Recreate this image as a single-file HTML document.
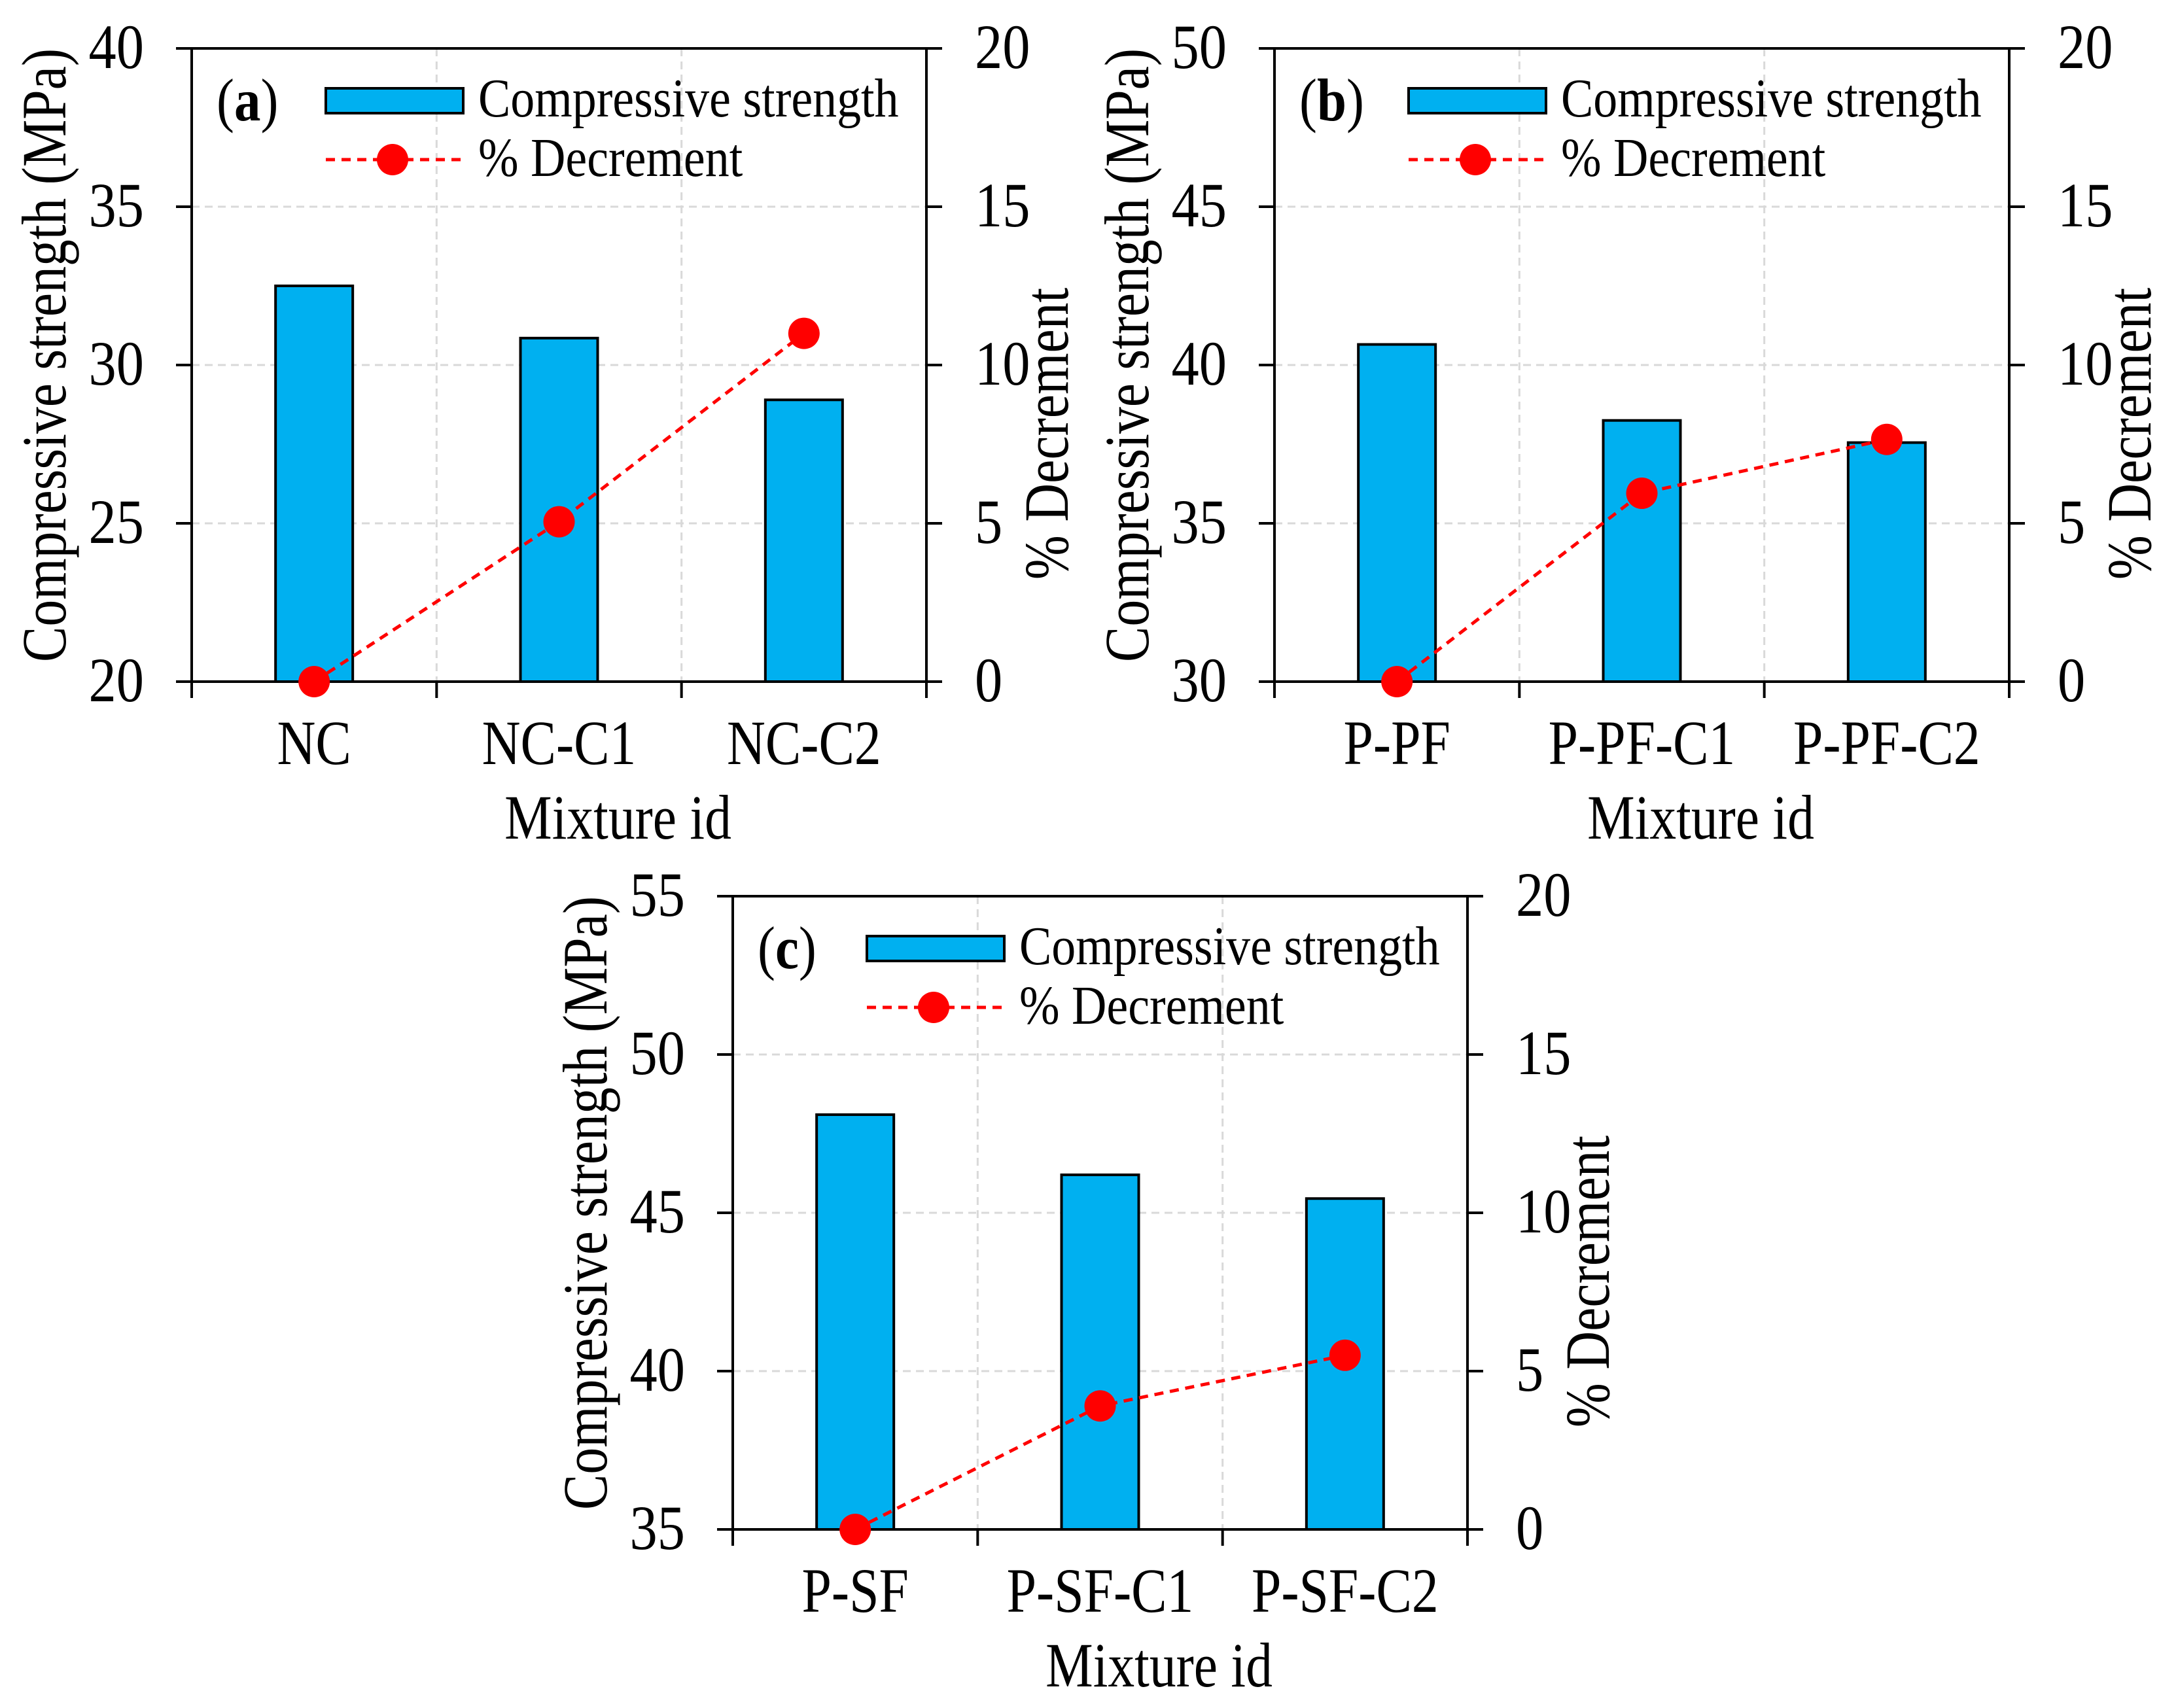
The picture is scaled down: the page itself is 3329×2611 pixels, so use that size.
<!DOCTYPE html>
<html><head><meta charset="utf-8"><style>
html,body{margin:0;padding:0;background:#fff;}
svg{display:block;font-family:"Liberation Serif",serif;}
</style></head><body>
<svg id="chart" width="3329" height="2611" viewBox="0 0 3329 2611" xmlns="http://www.w3.org/2000/svg"></svg>
<script>
const catsA = ["NC","NC-C1","NC-C2"];
const strengthA = [32.5, 30.85, 28.9];
const decA = [0, 5.05, 11.0];
const leftTicksA = [20,25,30,35,40];

const catsB = ["P-PF","P-PF-C1","P-PF-C2"];
const strengthB = [40.65, 38.25, 37.55];
const decB = [0, 5.95, 7.65];
const leftTicksB = [30,35,40,45,50];

const catsC = ["P-SF","P-SF-C1","P-SF-C2"];
const strengthC = [48.1, 46.2, 45.45];
const decC = [0, 3.9, 5.5];
const leftTicksC = [35,40,45,50,55];

const rightTicks = [0,5,10,15,20];

const NS = "http://www.w3.org/2000/svg";
const svg = document.getElementById("chart");
function mk(tag, attrs, parent, text){
  const e = document.createElementNS(NS, tag);
  for (const k in attrs) e.setAttribute(k, attrs[k]);
  if (text !== undefined) e.textContent = text;
  (parent||svg).appendChild(e);
  return e;
}
// condensed text: font-size fs, horizontal scale sx, optional rotation
function txt(parent, x, y, s, fs, anchor, sx, rot){
  const t = mk("text", {x:0, y:0, "font-size":fs, "text-anchor":anchor||"start",
    transform:`translate(${x},${y})` + (rot ? ` rotate(${rot})` : "") + ` scale(${sx},1)`}, parent, s);
  return t;
}

function panel(id, L, R, T, B, cats, vals, decs, lticks, label){
  const g = mk("g", {});
  
  
  const lmin = lticks[0], lmax = lticks[lticks.length-1];
  const yL = v => B - (v - lmin) / (lmax - lmin) * (B - T);
  const yR = v => B - v / 20 * (B - T);
  const W = R - L;
  const xC = i => L + (i + 0.5) * W / cats.length;
  lticks.forEach((t, i) => {
    if (i === 0 || i === lticks.length-1) return;
    const l = mk("line", {x1:L, x2:R, y1:yL(t), y2:yL(t), stroke:"#d9d9d9", "stroke-width":3, "stroke-dasharray":"12 8"}, g);
    
    
  });
  for (let i = 1; i < cats.length; i++){
    const x = L + i * W / cats.length;
    const l = mk("line", {x1:x, x2:x, y1:T, y2:B, stroke:"#d9d9d9", "stroke-width":3, "stroke-dasharray":"12 8"}, g);
    
    
  }
  vals.forEach((v, i) => {
    const r = mk("rect", {x:xC(i)-59, y:yL(v), width:118, height:B - yL(v), fill:"#00B0F0", stroke:"#000", "stroke-width":4}, g);
    
    
  });
  const fr = mk("rect", {x:L, y:T, width:W, height:B-T, fill:"none", stroke:"#000", "stroke-width":4}, g);
  
  
  lticks.forEach(t => {
    mk("line", {x1:L-24, x2:L, y1:yL(t), y2:yL(t), stroke:"#000", "stroke-width":4}, g);
    const tx = txt(g, L-73, yL(t)+30, String(t), 96, "end", 0.88);
    
    
  });
  rightTicks.forEach(t => {
    mk("line", {x1:R, x2:R+24, y1:yR(t), y2:yR(t), stroke:"#000", "stroke-width":4}, g);
    const tx = txt(g, R+74, yR(t)+30, String(t), 96, "start", 0.88);
    
    
  });
  for (let i = 0; i <= cats.length; i++){
    const x = L + i * W / cats.length;
    mk("line", {x1:x, x2:x, y1:B, y2:B+25, stroke:"#000", "stroke-width":4}, g);
  }
  cats.forEach((c, i) => {
    const tx = txt(g, xC(i), B+126, c, 96, "middle", 0.85);
    
    
  });
  let d = "";
  decs.forEach((v, i) => { d += (i ? "L" : "M") + xC(i) + " " + yR(v); });
  const p = mk("path", {d:d, fill:"none", stroke:"#ff0000", "stroke-width":5, "stroke-dasharray":"14 10"}, g);
  
  
  decs.forEach((v, i) => {
    const c = mk("circle", {cx:xC(i), cy:yR(v), r:24, fill:"#ff0000"}, g);
    
    
  });
  const xt = txt(g, L + W/2 + 90, B+240, "Mixture id", 96, "middle", 0.85);
  
  
  const ly = (T+B)/2;
  const lt = txt(g, L-193, ly-15, "Compressive strength (MPa)", 96, "middle", 0.85, -90);
  
  
  const rt = txt(g, R+216, ly+105, "% Decrement", 96, "middle", 0.85, -90);
  
  
  const pl = mk("text", {x:0, y:0, "font-size":92, transform:`translate(${L+38},${T+110}) scale(0.88,1)`}, g);
  
  
  mk("tspan", {}, pl, "(");
  mk("tspan", {"font-weight":"bold"}, pl, label);
  mk("tspan", {}, pl, ")");
  const lg = mk("g", {}, g);
  
  
  mk("rect", {x:L+205, y:T+61, width:210, height:38, fill:"#00B0F0", stroke:"#000", "stroke-width":4}, lg);
  const l1 = txt(lg, L+438, T+104, "Compressive strength", 84, "start", 0.88);
  
  
  mk("line", {x1:L+205, x2:L+415, y1:T+170, y2:T+170, stroke:"#ff0000", "stroke-width":5, "stroke-dasharray":"14 10"}, lg);
  mk("circle", {cx:L+307, cy:T+170, r:24, fill:"#ff0000"}, lg);
  const l2 = txt(lg, L+438, T+195, "% Decrement", 84, "start", 0.88);
  
  
}

panel("a", 293, 1416, 74, 1042, catsA, strengthA, decA, leftTicksA, "a");
panel("b", 1948, 3071, 74, 1042, catsB, strengthB, decB, leftTicksB, "b");
panel("c", 1120, 2243, 1370, 2338, catsC, strengthC, decC, leftTicksC, "c");
</script>
</body></html>
